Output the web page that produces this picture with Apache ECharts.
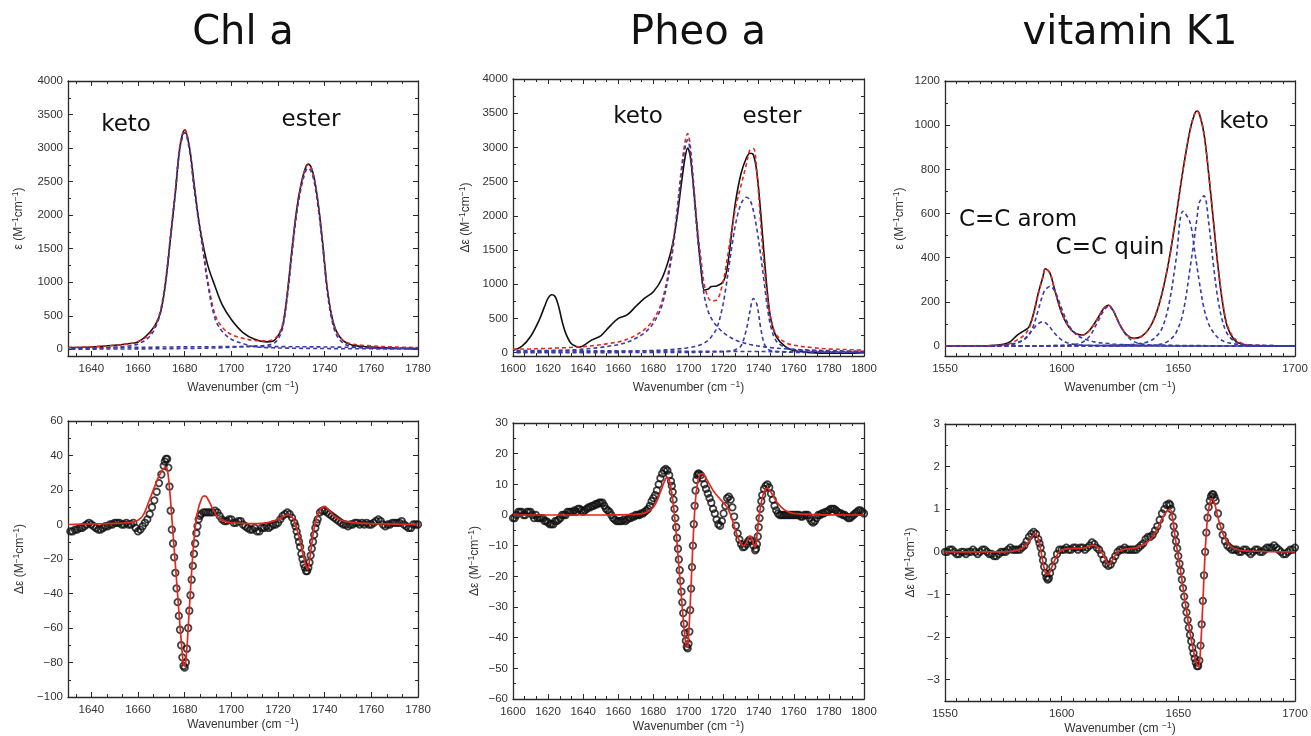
<!DOCTYPE html>
<html><head><meta charset="utf-8">
<script src="https://cdn.jsdelivr.net/npm/echarts@6/dist/echarts.min.js"></script>
<style>html,body{margin:0;padding:0;background:#fff}#c{width:1311px;height:736px}</style>
</head><body><div id="c"></div>
<script>
// ---------------- DATA ----------------
// Tick labels
const chlXTicks = [1640,1660,1680,1700,1720,1740,1760,1780];
const pheoXTicks = [1600,1620,1640,1660,1680,1700,1720,1740,1760,1780,1800];
const vkXTicks = [1550,1600,1650,1700];
const epsTicks = [0,500,1000,1500,2000,2500,3000,3500,4000];
const vkEpsTicks = [0,200,400,600,800,1000,1200];
const chlDiffTicks = [-100,-80,-60,-40,-20,0,20,40,60];
const pheoDiffTicks = [-60,-50,-40,-30,-20,-10,0,10,20,30];
const vkDiffTicks = [-3,-2,-1,0,1,2,3];

// Chl a absorption (top left)
const chlTopX = [1630,1640,1650,1655,1660,1665,1668,1670,1672,1674,1676,1678,1680,1682,1684,1686,1688,1690,1693,1696,1700,1705,1710,1715,1718,1720,1722,1724,1726,1728,1730,1732,1733,1735,1737,1739,1741,1743,1745,1748,1752,1760,1770,1780];
const chlTopExp = [25,35,60,80,110,250,400,600,1040,1685,2330,3020,3270,3020,2480,1930,1540,1240,940,670,445,250,150,110,125,200,350,840,1490,2080,2480,2730,2760,2630,2230,1635,940,500,270,125,60,35,20,10];
const chlTopFit = [27,38,59,77,115,228,410,641,1083,1725,2375,3047,3278,3030,2451,1953,1484,1007,519,334,220,165,130,125,147,210,378,836,1475,2073,2472,2720,2750,2618,2218,1626,936,494,263,130,77,50,35,25];
const chlTopKeto = [10,15,30,45,80,190,370,600,1040,1680,2330,3000,3230,2980,2400,1900,1430,950,460,270,150,85,40,25,22,20,18,17,16,15,14,13,13,12,12,11,11,10,10,9,8,7,6,5];
const chlTopEster = [2,3,4,5,6,7,8,8,9,10,10,11,12,13,14,15,16,18,20,24,30,40,50,60,85,150,320,780,1420,2020,2420,2670,2700,2570,2170,1580,890,450,220,90,40,18,9,5];
const chlTopBase = [15,20,25,27,29,31,32,33,34,35,35,36,36,37,37,38,38,39,39,40,40,40,40,40,40,40,40,39,39,38,38,37,37,36,36,35,35,34,33,31,29,25,20,15];

// Pheo a absorption (top middle)
const pheoTopX = [1600,1605,1610,1615,1618,1620,1622,1624,1626,1628,1630,1633,1636,1638,1640,1645,1650,1655,1660,1665,1670,1675,1680,1685,1690,1693,1696,1698,1699.5,1701,1703,1705,1707,1709,1711,1713,1716,1719,1721,1723,1725,1727,1730,1733,1735,1737,1739,1741,1743,1745,1747,1750,1755,1760,1770,1780,1790,1800];
const pheoTopExp = [30,90,235,480,675,795,845,820,675,455,285,135,90,80,100,185,245,380,500,550,675,795,890,1090,1480,1890,2480,2845,2990,2870,2380,1795,1260,915,925,965,975,1015,1110,1405,1845,2235,2625,2845,2915,2890,2625,2090,1455,870,480,235,90,30,0,-10,-10,0];
const pheoTopFit = [50,52,54,57,60,60,62,65,67,69,71,75,80,83,87,100,114,135,156,194,256,340,483,759,1397,1973,2701,3076,3203,3029,2459,1842,1388,994,820,756,767,960,1203,1522,1852,2142,2448,2756,2964,2983,2614,1936,1289,797,484,263,150,108,74,54,44,35];
const pheoTopKeto = [15,17,19,22,24,25,27,29,31,33,35,39,43,46,50,62,76,95,115,150,210,290,430,700,1330,1900,2620,2990,3110,2930,2350,1720,1250,830,620,500,390,310,270,235,205,180,152,130,118,108,99,91,84,78,72,65,55,47,36,28,23,19];
const pheoTopEster1 = [5,5,6,6,7,7,7,8,8,8,9,9,10,10,11,12,13,15,17,19,22,26,30,36,44,50,58,64,70,76,86,98,115,140,175,230,350,620,900,1250,1600,1900,2180,2270,2230,2070,1800,1450,1050,650,370,170,75,45,25,15,11,8];
const pheoTopEster2 = [0,0,0,0,0,0,0,0,0,0,0,0,0,0,0,0,0,0,0,1,1,1,1,1,2,2,2,2,3,3,3,4,4,5,6,7,9,12,15,20,30,45,100,340,600,790,700,380,140,55,28,14,7,4,2,1,1,0];
const pheoTopBase = [30,30,29,29,29,28,28,28,28,28,27,27,27,27,26,26,25,25,24,24,23,23,22,22,21,21,21,20,20,20,20,20,19,19,19,19,18,18,18,17,17,17,16,16,16,15,15,15,15,14,14,14,13,12,11,10,9,8];

// vitamin K1 absorption (top right)
const vkTopX = [1550,1560,1570,1575,1578,1581,1584,1586,1588,1590,1592,1593,1595,1597,1600,1603,1606,1609,1612,1615,1618,1620,1622,1625,1628,1631,1634,1637,1640,1643,1646,1649,1652,1655,1657,1658,1659,1661,1663,1665,1667,1669,1671,1674,1677,1680,1690,1700];
const vkTopExp = [0,0,2,8,20,50,70,87,150,240,315,350,330,255,150,87,57,50,72,118,170,185,163,95,50,35,42,72,133,238,389,585,796,977,1052,1064,1052,962,781,570,359,193,87,27,9,2,0,0];
const vkTopFit = [0,0,1,5,12,28,50,80,145,238,315,350,330,255,150,87,57,50,72,118,170,185,163,95,50,35,42,72,133,238,389,585,796,977,1052,1064,1052,962,781,570,362,200,95,35,14,5,1,0];
const vkTopA = [0,0,1,3,6,14,32,55,80,102,110,106,85,58,28,13,7,4,3,2,2,1,1,1,1,1,0,0,0,0,0,0,0,0,0,0,0,0,0,0,0,0,0,0,0,0,0,0];
const vkTopB = [0,1,2,4,8,15,30,50,95,165,235,255,270,250,170,95,55,35,24,17,13,11,9,7,6,5,4,4,3,3,3,2,2,2,2,2,2,2,1,1,1,1,1,1,1,0,0,0];
const vkTopC = [0,0,0,0,0,0,1,1,1,1,1,1,1,2,3,5,8,18,45,100,160,180,160,95,45,20,10,6,4,3,2,2,1,1,1,1,1,1,1,1,0,0,0,0,0,0,0,0];
const vkTopD = [0,0,1,1,1,1,1,1,1,1,1,1,2,2,2,2,2,3,3,3,4,4,5,5,6,8,12,20,38,80,190,390,610,560,430,360,290,170,100,62,38,24,16,10,7,5,2,1];
const vkTopE = [0,0,0,0,0,0,0,0,0,0,0,0,0,1,1,1,1,1,1,1,1,1,1,1,2,2,2,3,5,10,25,60,150,350,500,580,650,680,560,370,210,110,55,22,10,5,2,1];
const vkTopBase = [[1550,0],[1700,0]];

// Chl a difference spectrum (bottom left): measured points and fit
const chlDiffExp = [[1631,-4],[1632,-4],[1633,-3],[1634,-3],[1635,-2],[1636,-2],[1637,-1],[1638,0],[1639,1],[1640,0],[1641,-1],[1642,-2],[1643,-3],[1644,-3],[1645,-2],[1646,-1],[1647,-1],[1648,0],[1649,0],[1650,1],[1651,1],[1652,1],[1653,0],[1654,0],[1655,1],[1656,0],[1657,0],[1658,1],[1659,-2],[1660,-4],[1661,-3],[1662,-1],[1663,1],[1664,3],[1665,6],[1666,10],[1667,14],[1668,19],[1669,24],[1670,29],[1671,34],[1671.5,36.5],[1672,38],[1672.5,38],[1673,33],[1673.5,22],[1674,8],[1674.5,-3],[1675,-11],[1675.5,-19],[1676,-28],[1676.5,-37],[1677,-45],[1677.5,-53],[1678,-61],[1678.5,-70],[1679,-77],[1679.5,-82],[1680,-83],[1680.5,-80],[1681,-72],[1681.5,-60],[1682,-50],[1682.5,-41],[1683,-32],[1683.5,-24],[1684,-17],[1684.5,-11],[1685,-5],[1685.5,-1],[1686,3],[1686.5,5],[1687,6],[1688,7],[1689,7],[1690,7],[1691,7],[1692,7],[1693,8],[1694,7],[1695,5],[1696,3],[1697,2],[1698,2],[1699,3],[1700,3],[1701,1],[1702,1],[1703,2],[1704,2],[1705,0],[1706,-1],[1707,-2],[1708,-3],[1709,-3],[1710,-2],[1711,-4],[1712,-4],[1713,-2],[1714,-2],[1715,-1],[1716,-2],[1717,-1],[1718,0],[1719,0],[1720,1],[1721,3],[1722,5],[1723,6],[1724,7],[1725,6],[1726,4],[1727,1],[1727.5,-1],[1728,-4],[1728.5,-7],[1729,-10],[1729.5,-13],[1730,-17],[1730.5,-20],[1731,-23],[1731.5,-25],[1732,-27],[1732.5,-27],[1733,-25],[1733.5,-22],[1734,-18],[1734.5,-14],[1735,-10],[1735.5,-6],[1736,-2],[1736.5,1],[1737,3],[1738,7],[1739,8],[1740,8],[1741,7],[1742,6],[1743,5],[1744,4],[1745,3],[1746,2],[1747,1],[1748,0],[1749,0],[1750,-1],[1751,0],[1752,0],[1753,1],[1754,1],[1755,0],[1756,1],[1757,0],[1758,1],[1759,0],[1760,0],[1761,1],[1762,2],[1763,3],[1764,2],[1765,0],[1766,-1],[1767,0],[1768,0],[1769,1],[1770,1],[1771,1],[1772,1],[1773,2],[1774,0],[1775,-1],[1776,-2],[1777,-2],[1778,0],[1779,0],[1780,0]];
const chlDiffFit = [[1630,0],[1640,0.3],[1650,0.6],[1655,1],[1658,1.5],[1660,2.5],[1661,3.5],[1662,5],[1663,7.5],[1664,11],[1665,14.5],[1666,18],[1667,21.5],[1668,25],[1669,28],[1670,30.5],[1671,32.5],[1672,33],[1672.5,32],[1673,28],[1673.5,21],[1674,13],[1674.5,4],[1675,-5],[1675.5,-14],[1676,-23],[1676.5,-32],[1677,-41],[1677.5,-50],[1678,-59],[1678.5,-67],[1679,-75],[1679.5,-81],[1680,-82],[1680.5,-79],[1681,-71],[1681.5,-60],[1682,-49],[1682.5,-38],[1683,-27],[1683.5,-17],[1684,-9],[1684.5,-2],[1685,3],[1686,10],[1687,14],[1688,16.5],[1689,16.5],[1690,14.5],[1691,12],[1692,9],[1693,6.5],[1694,4.5],[1696,2.5],[1698,1.5],[1700,1],[1705,0.6],[1710,0.5],[1714,0.8],[1716,1.2],[1718,2],[1720,3],[1722,4.5],[1724,5.5],[1725,5.5],[1726,4.5],[1727,2],[1728,-2],[1729,-7],[1730,-13],[1731,-19],[1732,-24],[1732.5,-26],[1733,-25],[1733.5,-21],[1734,-16],[1734.5,-11],[1735,-6],[1735.5,-2],[1736,1.5],[1737,5.5],[1738,8.5],[1739,10],[1740,10.5],[1741,9.5],[1742,8],[1743,6.5],[1744,5],[1745,4],[1747,2.5],[1750,1.5],[1755,0.8],[1760,0.5],[1770,0.2],[1780,0]];

// Pheo a difference spectrum (bottom middle)
const pheoDiffExp = [[1600,-1],[1601,-1],[1602,0],[1603,1],[1604,1],[1605,1],[1606,0],[1607,0],[1608,1],[1609,1],[1610,1],[1611,0],[1612,-1],[1613,0],[1614,-1],[1615,-1],[1616,-1],[1617,-1],[1618,-2],[1619,-2],[1620,-2.5],[1621,-3],[1622,-3],[1623,-3],[1624,-2],[1625,-2],[1626,-1.5],[1627,-1],[1628,0],[1629,0],[1630,0],[1631,1],[1632,1],[1633,1],[1634,1],[1635,1.5],[1636,1],[1637,2],[1638,2],[1639,1.5],[1640,1],[1641,1.5],[1642,2],[1643,2.5],[1644,2.5],[1645,3],[1646,3],[1647,3.5],[1648,3.5],[1649,4],[1650,4],[1651,4],[1652,3],[1653,2],[1654,1.5],[1655,1],[1656,0],[1657,-1],[1658,-1.5],[1659,-2],[1660,-2],[1661,-2],[1662,-2],[1663,-1.5],[1664,-2],[1665,-1.5],[1666,-1],[1667,-1],[1668,-0.5],[1669,-0.5],[1670,0],[1671,0],[1672,0],[1673,0.5],[1674,0.5],[1675,1],[1676,1.5],[1677,2],[1678,3],[1679,4.5],[1680,5.5],[1681,6.5],[1682,8],[1683,10],[1684,12],[1685,13.5],[1686,14.5],[1687,15],[1688,14.5],[1689,13],[1690,11],[1690.5,9.5],[1691,7.5],[1691.5,5],[1692,2],[1692.5,-1],[1693,-4],[1693.5,-7.5],[1694,-11],[1694.5,-14.5],[1695,-18],[1695.5,-21.5],[1696,-25],[1696.5,-28.5],[1697,-32],[1697.5,-35.5],[1698,-38.5],[1698.5,-41],[1699,-43],[1699.5,-43.5],[1700,-42],[1700.5,-38],[1701,-31],[1701.5,-24],[1702,-17],[1702.5,-10],[1703,-3],[1703.5,3],[1704,8],[1704.5,11.5],[1705,13],[1705.5,13.5],[1706,13.5],[1707,13],[1708,12],[1709,10],[1710,8.5],[1711,7],[1712,5.5],[1713,4],[1714,2],[1715,0.5],[1716,-1.5],[1717,-3],[1718,-3.5],[1719,-2],[1720,0.5],[1721,3],[1722,5.5],[1723,6],[1724,5],[1725,2.5],[1726,-0.5],[1727,-3.5],[1728,-6],[1729,-8],[1730,-9.5],[1731,-10.5],[1732,-10.3],[1733,-9.5],[1734,-8.5],[1735,-8],[1736,-8.5],[1737,-10],[1738,-11.5],[1738.5,-11],[1739,-9.5],[1739.5,-7],[1740,-4],[1740.5,-1],[1741,2],[1741.5,4.5],[1742,6.5],[1743,8.5],[1744,9.5],[1745,10],[1746,9],[1747,7],[1748,5],[1749,3],[1750,1.5],[1751,0.5],[1752,0],[1753,0],[1754,0],[1755,0],[1756,0],[1757,0],[1758,0],[1759,0],[1760,0],[1761,0],[1762,0],[1763,0],[1764,-0.5],[1765,-0.5],[1766,0],[1767,0],[1768,0],[1769,-1],[1770,-2],[1771,-2.5],[1772,-2],[1773,-1],[1774,0],[1775,0],[1776,0.5],[1777,0.5],[1778,1],[1779,1],[1780,1.5],[1781,2],[1782,2],[1783,2],[1784,1.5],[1785,1],[1786,0.5],[1787,0.5],[1788,0],[1789,0],[1790,-0.5],[1791,-1],[1792,-1],[1793,-0.5],[1794,0],[1795,0.5],[1796,1],[1797,1.5],[1798,1.5],[1799,1],[1800,0.5]];
const pheoDiffFit = [[1600,0],[1650,0],[1670,0.2],[1675,0.6],[1678,1.5],[1680,2.5],[1682,4.5],[1684,7.5],[1686,10.5],[1687,11.8],[1688,12.3],[1689,11.5],[1690,9],[1691,5],[1692,0],[1693,-6],[1694,-13],[1695,-20],[1696,-27],[1697,-34],[1698,-40],[1699,-43],[1699.5,-43],[1700,-40],[1701,-29],[1702,-16],[1703,-4],[1704,5],[1705,10],[1706,12.5],[1707,13.3],[1708,13.5],[1709,13],[1710,12],[1712,10],[1714,8],[1716,6.5],[1718,5.2],[1720,4],[1722,2.5],[1724,0],[1726,-3.5],[1728,-7],[1730,-9.5],[1731.5,-10],[1733,-9],[1734.5,-7.2],[1735.5,-7],[1736.5,-8.5],[1737.5,-10.2],[1738,-10.5],[1738.5,-9.5],[1739,-7],[1740,-1.5],[1741,2.5],[1742,5.5],[1743,7.5],[1744,8.5],[1745,8.8],[1746,8.3],[1748,6.5],[1750,4.5],[1753,2.5],[1756,1.2],[1760,0.5],[1770,0.1],[1800,0]];

// vitamin K1 difference spectrum (bottom right)
const vkDiffExp = [[1550,0],[1551,0],[1552,0.05],[1553,0.05],[1554,0],[1555,-0.05],[1556,-0.05],[1557,0],[1558,0],[1559,-0.05],[1560,0],[1561,0],[1562,0.05],[1563,0],[1564,-0.05],[1565,0],[1566,0.05],[1567,0.05],[1568,0],[1569,-0.05],[1570,-0.05],[1571,-0.1],[1572,-0.1],[1573,-0.05],[1574,0],[1575,0],[1576,0],[1577,0.05],[1578,0.1],[1579,0.05],[1580,0.05],[1581,0.05],[1582,0.05],[1583,0.1],[1584,0.15],[1585,0.25],[1586,0.35],[1587,0.42],[1588,0.47],[1589,0.42],[1590,0.3],[1590.5,0.2],[1591,0.1],[1591.5,-0.05],[1592,-0.2],[1592.5,-0.35],[1593,-0.5],[1593.5,-0.6],[1594,-0.65],[1594.5,-0.62],[1595,-0.5],[1596,-0.35],[1597,-0.2],[1598,-0.05],[1599,0.05],[1600,0.05],[1601,0.05],[1602,0.1],[1603,0.05],[1604,0.05],[1605,0.1],[1606,0.1],[1607,0.05],[1608,0.1],[1609,0.1],[1610,0.05],[1611,0.1],[1612,0.15],[1613,0.22],[1614,0.18],[1615,0.1],[1616,0.05],[1617,-0.05],[1618,-0.18],[1619,-0.28],[1620,-0.33],[1621,-0.3],[1622,-0.2],[1623,-0.1],[1624,0],[1625,0.05],[1626,0.05],[1627,0.1],[1628,0.05],[1629,0.05],[1630,0.05],[1631,0.05],[1632,0.05],[1633,0.1],[1634,0.15],[1635,0.2],[1636,0.3],[1637,0.35],[1638,0.35],[1639,0.4],[1640,0.5],[1641,0.6],[1642,0.75],[1643,0.9],[1644,1.0],[1645,1.1],[1646,1.13],[1646.5,1.1],[1647,1.0],[1647.5,0.82],[1648,0.6],[1648.5,0.42],[1649,0.25],[1649.5,0.08],[1650,-0.1],[1650.5,-0.28],[1651,-0.45],[1651.5,-0.65],[1652,-0.85],[1652.5,-1.05],[1653,-1.25],[1653.5,-1.42],[1654,-1.6],[1654.5,-1.78],[1655,-1.95],[1655.5,-2.1],[1656,-2.25],[1656.5,-2.38],[1657,-2.5],[1657.5,-2.6],[1658,-2.68],[1658.5,-2.68],[1659,-2.55],[1659.5,-2.2],[1660,-1.7],[1660.5,-1.15],[1661,-0.55],[1661.5,0],[1662,0.45],[1662.5,0.8],[1663,1.05],[1663.5,1.2],[1664,1.3],[1664.5,1.35],[1665,1.35],[1665.5,1.28],[1666,1.2],[1667,0.9],[1668,0.6],[1669,0.4],[1670,0.25],[1671,0.15],[1672,0.1],[1673,0.05],[1674,0.05],[1675,0.05],[1676,0],[1677,0],[1678,0.05],[1679,0.05],[1680,0],[1681,-0.05],[1682,0],[1683,0.05],[1684,0.05],[1685,0],[1686,0],[1687,0.05],[1688,0.1],[1689,0.1],[1690,0.1],[1691,0.15],[1692,0.1],[1693,0.05],[1694,0],[1695,-0.05],[1696,-0.05],[1697,0],[1698,0.05],[1699,0.05],[1700,0.1]];
const vkDiffFit = [[1550,0],[1575,0],[1580,0.03],[1583,0.08],[1585,0.18],[1587,0.33],[1588.5,0.42],[1589.5,0.38],[1590.5,0.2],[1591.5,-0.1],[1592.5,-0.38],[1593.5,-0.53],[1594.5,-0.52],[1595.5,-0.4],[1597,-0.2],[1599,0],[1602,0.07],[1606,0.08],[1610,0.1],[1613,0.15],[1615,0.12],[1617,0],[1619,-0.2],[1620,-0.28],[1621,-0.26],[1622.5,-0.12],[1624,0],[1627,0.06],[1632,0.1],[1636,0.2],[1639,0.35],[1641,0.55],[1643,0.78],[1645,0.95],[1646.5,1.0],[1647.5,0.8],[1648.5,0.4],[1649.5,0.05],[1651,-0.45],[1653,-1.2],[1655,-1.9],[1657,-2.45],[1658,-2.65],[1658.7,-2.7],[1659.5,-2.3],[1660.5,-1.2],[1661.5,0],[1662.5,0.8],[1663.5,1.15],[1664.5,1.25],[1665.5,1.15],[1667,0.8],[1669,0.45],[1671,0.22],[1674,0.08],[1680,0.02],[1700,0]];

// ---------------- LAYOUT / STYLE ----------------
const TF = "'Liberation Sans Narrow','Liberation Sans',Arial,sans-serif";
const BLACK = '#111111', RED = '#e2281f', BLUE = '#3a3aa6', AX = '#2a2a2a';
const zip = (xs, ys) => xs.map((x, i) => [x, ys[i]]);
const epsName = 'ε (M{s|−1}cm{s|−1})';
const dEpsName = 'Δε (M{s|−1}cm{s|−1})';

const panels = [
  {g:{left:68,top:81,width:350,height:275}, x:[1630,1780], y:[-100,4000], xt:chlXTicks, xs:20/3, yt:epsTicks, ys:250, yName:epsName, yGap:41, xGap:24},
  {g:{left:513,top:79,width:351,height:277}, x:[1600,1800], y:[-50,4000], xt:pheoXTicks, xs:20/3, yt:epsTicks, ys:250, yName:dEpsName, yGap:39, xGap:24},
  {g:{left:945,top:81,width:350,height:275}, x:[1550,1700], y:[-45,1200], xt:vkXTicks, xs:5, yt:vkEpsTicks, ys:100, yName:epsName, yGap:37, xGap:24},
  {g:{left:68,top:421,width:350,height:276}, x:[1630,1780], y:[-100,60], xt:chlXTicks, xs:20/3, yt:chlDiffTicks, ys:10, yName:dEpsName, yGap:40, xGap:20},
  {g:{left:513,top:423,width:351,height:276}, x:[1600,1800], y:[-60,30], xt:pheoXTicks, xs:20/3, yt:pheoDiffTicks, ys:5, yName:dEpsName, yGap:30, xGap:20},
  {g:{left:945,top:424,width:350,height:277}, x:[1550,1700], y:[-3.5,3], xt:vkXTicks, xs:5, yt:vkDiffTicks, ys:0.5, yName:dEpsName, yGap:26, xGap:20}
];

function minorTicks(major, step, lo, hi) {
  const out = [];
  for (let v = major[0]; v >= lo - 1e-9; v -= step) out.push(v);
  for (let v = major[0] + step; v <= hi + 1e-9; v += step) out.push(v);
  return out.filter(v => !major.some(m => Math.abs(m - v) < 1e-6) && v > lo + 1e-6 && v < hi - 1e-6);
}
const fmt = v => String(+v.toFixed(4)).replace('-', '−');
const nameStyle = {fontSize: 12, color: '#333', fontFamily: TF, rich: {s: {fontSize: 8.5, color: '#333', fontFamily: TF, padding: [0, 0, 7, 0]}}};

const grids = [], xAxes = [], yAxes = [];
panels.forEach((p, i) => { grids.push(Object.assign({containLabel: false}, p.g)); });
panels.forEach((p, i) => { grids.push(Object.assign({containLabel: false}, p.g)); });

function mkAxis(gi, pos, min, max, ticks, len, line, labels, name, gap, isY) {
  const a = {
    gridIndex: gi, type: 'value', min: min, max: max, position: pos,
    axisLine: {show: line, onZero: false, lineStyle: {color: AX, width: 1.3}},
    axisTick: {show: true, inside: true, length: len, customValues: ticks, lineStyle: {color: AX, width: 1}},
    axisLabel: labels ? {show: true, customValues: ticks, fontSize: 11.5, color: '#333', fontFamily: TF, margin: isY ? 5 : 7, formatter: fmt} : {show: false},
    splitLine: {show: false}, minorTick: {show: false}
  };
  if (name) {
    a.name = name; a.nameLocation = 'middle'; a.nameGap = gap; a.nameTextStyle = nameStyle;
    if (isY) a.nameRotate = 90;
  }
  return a;
}
panels.forEach((p, i) => {
  xAxes.push(mkAxis(i, 'bottom', p.x[0], p.x[1], p.xt, 5, true, true, 'Wavenumber (cm {s|−1})', p.xGap, false));
  xAxes.push(mkAxis(i, 'top', p.x[0], p.x[1], p.xt, 5, true, false, null, 0, false));
  yAxes.push(mkAxis(i, 'left', p.y[0], p.y[1], p.yt, 5, true, true, p.yName, p.yGap, true));
  yAxes.push(mkAxis(i, 'right', p.y[0], p.y[1], p.yt, 5, true, false, null, 0, true));
});
panels.forEach((p, i) => {
  const mx = minorTicks(p.xt, p.xs, p.x[0], p.x[1]);
  const my = minorTicks(p.yt, p.ys, p.y[0], p.y[1]);
  xAxes.push(mkAxis(6 + i, 'bottom', p.x[0], p.x[1], mx, 3, false, false, null, 0, false));
  xAxes.push(mkAxis(6 + i, 'top', p.x[0], p.x[1], mx, 3, false, false, null, 0, false));
  yAxes.push(mkAxis(6 + i, 'left', p.y[0], p.y[1], my, 3, false, false, null, 0, true));
  yAxes.push(mkAxis(6 + i, 'right', p.y[0], p.y[1], my, 3, false, false, null, 0, true));
});

const series = [];
function solid(pi, data, color, w) {
  series.push({type: 'line', xAxisIndex: 2 * pi, yAxisIndex: 2 * pi, data: data, showSymbol: false, smooth: 0.35,
    lineStyle: {color: color, width: w}, z: 3, silent: true});
}
function dashed(pi, data, color, off, z) {
  series.push({type: 'line', xAxisIndex: 2 * pi, yAxisIndex: 2 * pi, data: data, showSymbol: false, smooth: 0.35,
    lineStyle: {color: color, width: 1.6, type: [4, 3], dashOffset: off}, z: z, silent: true});
}
function points(pi, data) {
  series.push({type: 'scatter', xAxisIndex: 2 * pi, yAxisIndex: 2 * pi, data: data, symbol: 'circle', symbolSize: 6.5,
    itemStyle: {color: 'rgba(0,0,0,0)', borderColor: BLACK, borderWidth: 1.8}, z: 2, silent: true});
}

// top panels
solid(0, zip(chlTopX, chlTopExp), BLACK, 1.6);
dashed(0, zip(chlTopX, chlTopFit), RED, 0, 4);
dashed(0, zip(chlTopX, chlTopKeto), BLUE, 3.5, 5);
dashed(0, zip(chlTopX, chlTopEster), BLUE, 3.5, 5);
dashed(0, zip(chlTopX, chlTopBase), BLUE, 3.5, 5);

solid(1, zip(pheoTopX, pheoTopExp), BLACK, 1.6);
dashed(1, zip(pheoTopX, pheoTopFit), RED, 0, 4);
dashed(1, zip(pheoTopX, pheoTopKeto), BLUE, 3.5, 5);
dashed(1, zip(pheoTopX, pheoTopEster1), BLUE, 3.5, 5);
dashed(1, zip(pheoTopX, pheoTopEster2), BLUE, 3.5, 5);
dashed(1, zip(pheoTopX, pheoTopBase), BLUE, 3.5, 5);

solid(2, zip(vkTopX, vkTopExp), BLACK, 1.6);
dashed(2, zip(vkTopX, vkTopFit), RED, 0, 4);
dashed(2, zip(vkTopX, vkTopA), BLUE, 3.5, 5);
dashed(2, zip(vkTopX, vkTopB), BLUE, 3.5, 5);
dashed(2, zip(vkTopX, vkTopC), BLUE, 3.5, 5);
dashed(2, zip(vkTopX, vkTopD), BLUE, 3.5, 5);
dashed(2, zip(vkTopX, vkTopE), BLUE, 3.5, 5);
dashed(2, vkTopBase, BLUE, 3.5, 5);

// bottom panels
points(3, chlDiffExp);  solid(3, chlDiffFit, RED, 1.7);
points(4, pheoDiffExp); solid(4, pheoDiffFit, RED, 1.7);
points(5, vkDiffExp);   solid(5, vkDiffFit, RED, 1.7);

const TITLE_F = "40px 'DejaVu Sans', sans-serif";
const ANN_F = "23px 'DejaVu Sans', sans-serif";
function txt(x, y, s, font) {
  return {type: 'text', x: x, y: y, silent: true,
    style: {text: s, font: font, fill: '#111', align: 'center', verticalAlign: 'middle', textAlign: 'center', textVerticalAlign: 'middle'}};
}
const graphics = [
  txt(243, 34, 'Chl a', TITLE_F), txt(698, 34, 'Pheo a', TITLE_F), txt(1130, 34, 'vitamin K1', TITLE_F),
  txt(126, 125, 'keto', ANN_F), txt(311, 120, 'ester', ANN_F),
  txt(638, 117, 'keto', ANN_F), txt(772, 117, 'ester', ANN_F),
  txt(1244, 122, 'keto', ANN_F), txt(1018, 220, 'C=C arom', ANN_F), txt(1110, 248, 'C=C quin', ANN_F)
];

const chart = echarts.init(document.getElementById('c'), null, {renderer: 'canvas'});
chart.setOption({
  animation: false, backgroundColor: '#ffffff',
  grid: grids, xAxis: xAxes, yAxis: yAxes, series: series, graphic: graphics
});
</script>
</body></html>
